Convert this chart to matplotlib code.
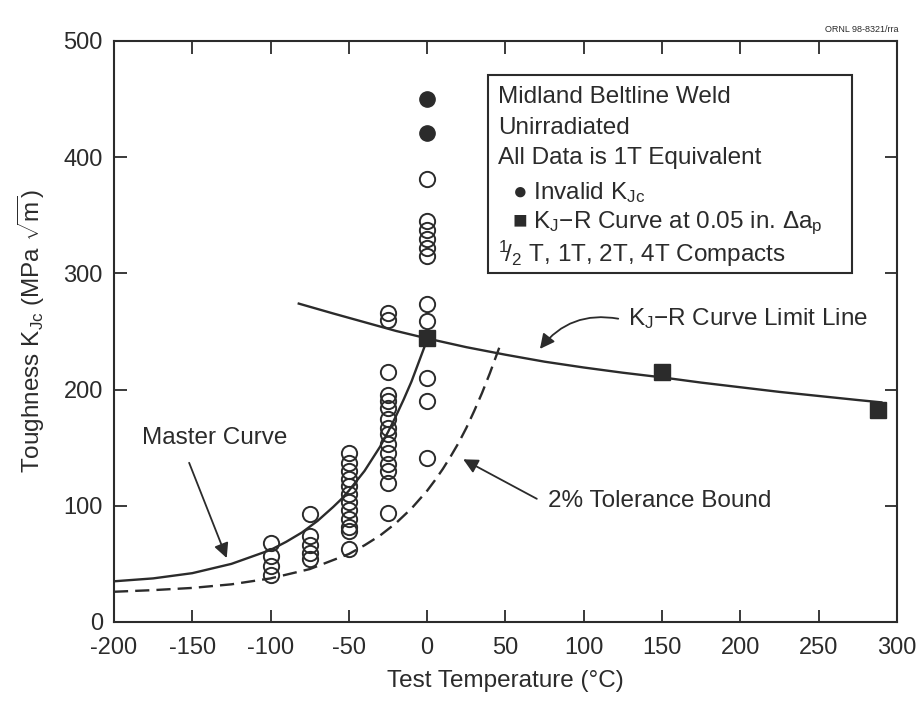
import matplotlib.pyplot as plt
from matplotlib.patches import Rectangle

plt.rcParams['font.family'] = ['Liberation Sans', 'DejaVu Sans']
plt.rcParams['mathtext.fontset'] = 'custom'
plt.rcParams['mathtext.rm'] = 'Liberation Sans'
plt.rcParams['mathtext.it'] = 'Liberation Sans:italic'
plt.rcParams['mathtext.bf'] = 'Liberation Sans:bold'
plt.rcParams['axes.unicode_minus'] = False

INK = '#2b2b2b'
FS = 17.5

# valid K_Jc data (open circles), one list per test temperature
test_temps = [-100, -75, -50, -25, 0]
kjc_m100 = [68, 57, 48, 40]
kjc_m75 = [93, 74, 66, 59, 54]
kjc_m50 = [145, 137, 130, 123, 117, 110, 103, 96, 89, 82, 78, 63]
kjc_m25 = [266, 260, 215, 195, 190, 184, 175, 167, 162, 153, 145, 136, 130, 120, 94]
kjc_0 = [381, 345, 337, 330, 322, 315, 274, 259, 210, 190, 141]
kjc_groups = [kjc_m100, kjc_m75, kjc_m50, kjc_m25, kjc_0]

# invalid K_Jc (filled circles)
invalid_temp = [0, 0]
invalid_kjc = [450, 421]

# KJ-R curve at 0.05 in. (filled squares)
rcurve_temp = [0, 150, 288]
rcurve_kjc = [244, 215, 182]

# master curve
master_t = [-200, -175, -150, -125, -100, -90, -80, -70, -60, -55, -50, -45,
            -40, -35, -30, -25, -20, -15, -10, -5, 0]
master_k = [35, 37.5, 42, 50, 62, 69, 77, 87, 99, 105.5, 113, 121.5,
            130, 140.5, 151, 163.5, 177, 191.5, 207, 225, 243]

# 2% tolerance bound
bound_t = [-200, -175, -150, -125, -100, -75, -50, -40, -30, -20, -10, 0,
           5, 10, 15, 20, 25, 30, 35, 40, 46]
bound_k = [26, 27.4, 29.3, 32.4, 37.5, 45.5, 58.5, 66, 74.5, 85, 97.7, 113,
           122, 131.7, 142.5, 154, 167, 181.5, 197, 214, 236]

# KJ-R curve limit line
limit_t = [-82, -60, -40, -20, 0, 25, 50, 75, 100, 125, 150, 175, 200, 225,
           250, 275, 290]
limit_k = [274, 265.5, 258, 250.5, 244, 236.5, 230, 224, 219, 214.5, 210.5,
           206, 202, 198, 194.5, 191, 189]

fig = plt.figure(figsize=(9.22, 7.02), dpi=100)
ax = fig.add_axes([0.1236, 0.114, 0.8493, 0.8276])

# curves
ax.plot(master_t, master_k, color=INK, lw=1.7, zorder=2)
ax.plot(bound_t, bound_k, color=INK, lw=1.7, dashes=(6, 3), zorder=2)
ax.plot(limit_t, limit_k, color=INK, lw=1.7, zorder=2)

# data points
for t, vals in zip(test_temps, kjc_groups):
    ax.plot([t] * len(vals), vals, 'o', ms=11, mfc='none', mec=INK,
            mew=1.4, zorder=3)
ax.plot(invalid_temp, invalid_kjc, 'o', ms=11, color=INK, zorder=4)
ax.plot(rcurve_temp, rcurve_kjc, 's', ms=11.5, color=INK, zorder=4)

# axes
ax.set_xlim(-200, 300)
ax.set_ylim(0, 500)
ax.set_xticks(range(-200, 301, 50))
ax.set_yticks(range(0, 501, 100))
ax.tick_params(direction='in', length=9, width=1.3, top=True, right=True,
               labelsize=17, colors=INK)
ax.tick_params(axis='x', pad=11)
ax.tick_params(axis='y', pad=8)
for sp in ax.spines.values():
    sp.set_linewidth(1.5)
    sp.set_color(INK)
ax.set_xlabel('Test Temperature (°C)', fontsize=FS, color=INK, labelpad=8)
ax.set_ylabel(r'Toughness K$_{\mathrm{Jc}}$ (MPa $\sqrt{\mathrm{m}}$)',
              fontsize=FS, color=INK, labelpad=12)

# legend box
ax.add_patch(Rectangle((39, 300), 232, 171, fill=False, ec=INK, lw=1.5,
                       zorder=5))
legend_lines = [
    (45, 452, 'Midland Beltline Weld'),
    (45, 425, 'Unirradiated'),
    (45, 399, 'All Data is 1T Equivalent'),
    (54, 370, r'● Invalid K$_{\mathrm{Jc}}$'),
    (54, 343, r'■ K$_{\mathrm{J}}$−R Curve at 0.05 in. Δa$_{\mathrm{p}}$'),
    (45, 317, r'$^{1}\!/_{2}$ T, 1T, 2T, 4T Compacts'),
]
for x, y, s in legend_lines:
    ax.text(x, y, s, fontsize=FS, color=INK, va='center', ha='left',
            zorder=6)

# annotations
arrow = dict(arrowstyle='-|>', color=INK, lw=1.3, mutation_scale=22,
             shrinkA=0, shrinkB=0)
ax.text(-136, 158, 'Master Curve', fontsize=FS, color=INK, ha='center',
        va='center')
ax.annotate('', xy=(-128, 55), xytext=(-152, 137), arrowprops=arrow)

ax.text(128, 261, r'K$_{\mathrm{J}}$−R Curve Limit Line', fontsize=FS,
        color=INK, ha='left', va='center')
ax.annotate('', xy=(72, 235), xytext=(122, 261),
            arrowprops=dict(arrow, connectionstyle='arc3,rad=0.3'))

ax.text(77, 104, '2% Tolerance Bound', fontsize=FS, color=INK, ha='left',
        va='center')
ax.annotate('', xy=(23, 140), xytext=(70, 106), arrowprops=arrow)

fig.text(0.975, 0.958, 'ORNL 98-8321/rra', fontsize=6.5, color=INK,
         ha='right', va='center')

fig.savefig('out.png', dpi=100, facecolor='white')
